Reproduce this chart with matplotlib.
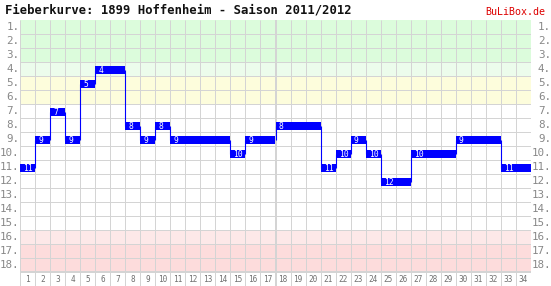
import matplotlib
matplotlib.use("Agg")
import matplotlib.pyplot as plt
from matplotlib.patches import Rectangle

title = "Fieberkurve: 1899 Hoffenheim - Saison 2011/2012"
brand = "BuLiBox.de"
matchdays = list(range(1, 35))
positions = [11, 9, 7, 9, 5, 4, 4, 8, 9, 8,
             9, 9, 9, 9, 10, 9, 9, 8, 8, 8,
             11, 10, 9, 10, 12, 12, 10, 10, 10, 9,
             9, 9, 11, 11]
n_teams = 18
zone_colors = {1: "#dcfcdc", 2: "#dcfcdc", 3: "#dcfcdc", 4: "#ecfcec",
               5: "#fdfddc", 6: "#fdfddc",
               16: "#fde8e8", 17: "#fddcdc", 18: "#fddcdc"}

W, H = 551, 286
fig = plt.figure(figsize=(W / 100, H / 100), dpi=100)
left_px, right_px, top_px = 20, 531, 20
ax = fig.add_axes([left_px / W, 0, (right_px - left_px) / W, (H - top_px) / H])
n = len(matchdays)
ax.set_xlim(0.5, n + 0.5)
ax.set_ylim(n_teams + 1.5, 0.5)
ax.axis("off")

grid = "#d4d4d4"
px = 0.72
# zone backgrounds
for r, c in zone_colors.items():
    ax.add_patch(Rectangle((0.5, r - 0.5), n, 1, facecolor=c, edgecolor="none", zorder=0))
# horizontal grid lines
for r in range(1, n_teams + 1):
    lw = 2 * px if r == n_teams else px
    ax.plot([0.5, n + 0.5], [r + 0.5, r + 0.5], color=grid, lw=lw, zorder=1,
            solid_capstyle="butt")
# vertical grid lines
for k in range(0, n + 1):
    x = k + 0.5
    lw = 2 * px if k == 17 else px
    ax.plot([x, x], [0.5, n_teams + 1.5], color=grid, lw=lw, zorder=1,
            solid_capstyle="butt")

# step curve
blue = "#0000ff"
bh = 0.57
for i, (md, p) in enumerate(zip(matchdays, positions)):
    ax.add_patch(Rectangle((md - 0.5, p + 0.07 - bh / 2), 1, bh, facecolor=blue,
                           edgecolor="none", zorder=3))
    if i > 0 and positions[i - 1] != p:
        ax.plot([md - 0.5, md - 0.5], [positions[i - 1] + 0.07, p + 0.07], color=blue,
                lw=0.8, zorder=2, solid_capstyle="butt")
    if i == 0 or positions[i - 1] != p:
        ax.text(md - 0.5 + 0.2, p + 0.1, str(p), color="white", fontsize=5.8,
                family="DejaVu Sans Mono", ha="left", va="center", zorder=4)

# x labels
for md in matchdays:
    ax.text(md, n_teams + 1.05, str(md), color="#707070", fontsize=5.6,
            family="DejaVu Sans Mono", ha="center", va="center")

# y labels both sides
for r in range(1, n_teams + 1):
    y_fig = 1 - (top_px + (r - 0.5) * 14) / H
    fig.text(19.5 / W, y_fig, f"{r}.", color="#888888", fontsize=7.8,
             family="DejaVu Sans Mono", ha="right", va="center")
    fig.text(551 / W, y_fig, f"{r}.", color="#888888", fontsize=7.8,
             family="DejaVu Sans Mono", ha="right", va="center")

fig.text(5 / W, 1 - 10 / H, title, fontsize=8.8, fontweight="bold",
         family="DejaVu Sans Mono", ha="left", va="center", color="#111111")
fig.text(545 / W, 1 - 12 / H, brand, fontsize=7.2, family="DejaVu Sans Mono",
         ha="right", va="center", color="#dd0000")

fig.savefig("out.png", dpi=100, facecolor="white")
